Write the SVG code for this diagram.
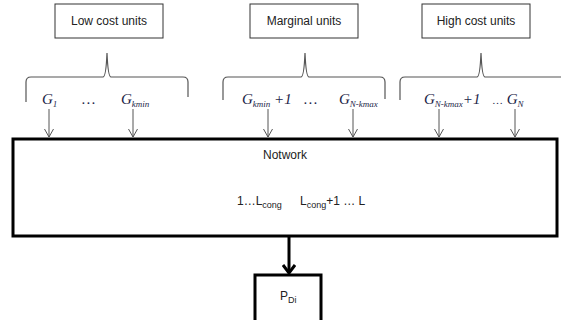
<svg xmlns="http://www.w3.org/2000/svg" width="561" height="320" viewBox="0 0 561 320">
<style>
.lbl{font-family:"Liberation Sans",Arial,sans-serif;font-size:12px;fill:#222;}
.g{font-family:"Liberation Serif","Times New Roman",serif;font-style:italic;font-size:15px;fill:#1c2448;}
.sub{font-size:9px;}
.box{fill:#fff;stroke:#333;stroke-width:1;}
.thick{fill:#fff;stroke:#000;stroke-width:3;}
.thin{stroke:#555;stroke-width:1;fill:none;}
.brace{stroke:#555;stroke-width:1.2;fill:none;}
</style>
<defs>
<marker id="v" markerWidth="10" markerHeight="10" refX="9" refY="5" orient="auto" markerUnits="userSpaceOnUse" viewBox="0 0 10 10">
<path d="M1,0.5 L9,5 L1,9.5" fill="none" stroke="#555" stroke-width="1"/>
</marker>
<marker id="vb" markerWidth="14" markerHeight="14" refX="12" refY="7" orient="auto" markerUnits="userSpaceOnUse" viewBox="0 0 14 14">
<path d="M4,1 L12,7 L4,13" fill="none" stroke="#000" stroke-width="3"/>
</marker>
</defs>
<rect width="561" height="320" fill="#fff"/>
<g id="low-cost">
<rect class="box" x="55" y="4" width="108" height="34"/>
<text class="lbl" x="109" y="25" text-anchor="middle">Low cost units</text>
</g>
<g id="marginal">
<rect class="box" x="250" y="4" width="108" height="34"/>
<text class="lbl" x="304" y="25" text-anchor="middle">Marginal units</text>
</g>
<g id="high-cost">
<rect class="box" x="422" y="4" width="108" height="34"/>
<text class="lbl" x="476" y="25" text-anchor="middle">High cost units</text>
</g>
<g id="braces">
<path class="brace" d="M26,102 L26,82 Q26,77 31,77 L103,77 Q106,77 107,53 Q108,77 111,77 L183,77 Q188,77 188,82 L188,97"/>
<path class="brace" d="M223,100 L223,82 Q223,77 228,77 L301,77 Q304,77 305,53 Q306,77 309,77 L380,77 Q385,77 385,82 L385,99"/>
<path class="brace" d="M400,100 L400,82 Q400,77 405,77 L477,77 Q480,77 481,53 Q482,77 485,77 L561,77"/>
</g>
<g id="generators">
<text class="g" x="42" y="104">G<tspan class="sub" dy="3">1</tspan></text>
<text class="g" x="82" y="104" font-style="normal" font-size="11">…</text>
<text class="g" x="121" y="104">G<tspan class="sub" dy="3">kmin</tspan></text>
<text class="g" x="242" y="104">G<tspan class="sub" dy="3">kmin</tspan><tspan dy="-3"> +1</tspan></text>
<text class="g" x="304" y="104" font-style="normal" font-size="11">…</text>
<text class="g" x="339" y="104">G<tspan class="sub" dy="3">N-kmax</tspan></text>
<text class="g" x="424" y="104">G<tspan class="sub" dy="3">N-kmax</tspan><tspan dy="-3">+1</tspan></text>
<text class="g" x="492" y="104"><tspan font-style="normal" font-size="11">…</tspan> G<tspan class="sub" dy="3">N</tspan></text>
</g>
<g id="network">
<rect class="thick" x="13" y="139" width="544" height="97"/>
<text class="lbl" x="285" y="159" text-anchor="middle">Notwork</text>
<text class="lbl" x="237" y="205">1…L<tspan class="sub" dy="3">cong</tspan><tspan dy="-3" x="300">L</tspan><tspan class="sub" dy="3">cong</tspan><tspan dy="-3">+1 … L</tspan></text>
</g>
<g id="pdi">
<rect class="thick" x="255" y="275" width="66" height="50"/>
<text class="lbl" x="280" y="300">P<tspan class="sub" dy="3">Di</tspan></text>
</g>
<g id="connectors">
<line class="thin" x1="49" y1="109" x2="49" y2="137" marker-end="url(#v)"/>
<line class="thin" x1="133" y1="109" x2="133" y2="137" marker-end="url(#v)"/>
<line class="thin" x1="268" y1="109" x2="268" y2="137" marker-end="url(#v)"/>
<line class="thin" x1="353" y1="109" x2="353" y2="137" marker-end="url(#v)"/>
<line class="thin" x1="439" y1="109" x2="439" y2="137" marker-end="url(#v)"/>
<line class="thin" x1="515" y1="109" x2="515" y2="137" marker-end="url(#v)"/>
<line x1="289" y1="237" x2="289" y2="273" stroke="#000" stroke-width="3" marker-end="url(#vb)"/>
</g>
</svg>
